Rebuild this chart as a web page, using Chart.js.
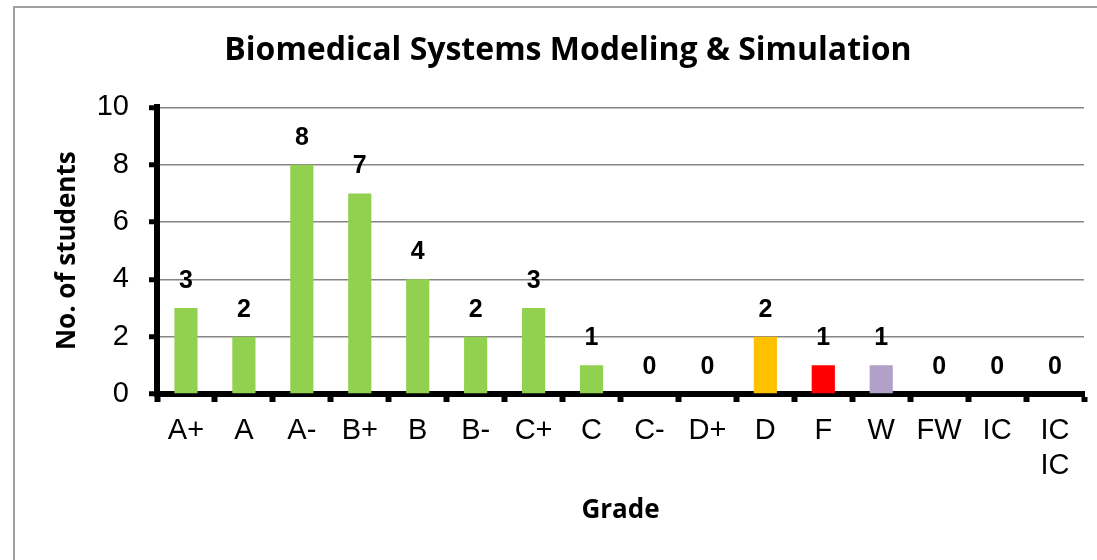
<!DOCTYPE html>
<html>
<head>
<meta charset="utf-8">
<script src="https://cdn.jsdelivr.net/npm/chart.js@4.4.1/dist/chart.umd.min.js"></script>
<style>
  html, body { margin: 0; padding: 0; background: #fff; }
  #wrap { position: relative; width: 1097px; height: 560px; overflow: hidden; }
  #frame { position: absolute; left: 13px; top: 6px; width: 1100px; height: 600px;
           border-top: 2px solid #a0a0a0; border-left: 2px solid #a0a0a0; }
  canvas { position: absolute; left: 0; top: 0; }
</style>
</head>
<body>
<div id="wrap">
  <div id="frame"></div>
  <canvas id="myChartGrades" width="1097" height="560"></canvas>
</div>
<script>
var grades = ['A+', 'A', 'A-', 'B+', 'B', 'B-', 'C+', 'C', 'C-', 'D+', 'D', 'F', 'W', 'FW', 'IC', ['IC', 'IC']];
var students = [3, 2, 8, 7, 4, 2, 3, 1, 0, 0, 2, 1, 1, 0, 0, 0];
var barColors = ['#92d050', '#92d050', '#92d050', '#92d050', '#92d050', '#92d050', '#92d050', '#92d050',
                 '#92d050', '#92d050', '#ffc000', '#ff0000', '#b1a0c7', '#92d050', '#92d050', '#92d050'];
var yTicks = [0, 2, 4, 6, 8, 10];

// numeros encima de cada barra
var valueLabels = {
    id: 'valueLabels',
    afterDatasetsDraw: function (chart) {
        var ctx = chart.ctx;
        var meta = chart.getDatasetMeta(0);
        ctx.save();
        ctx.font = 'bold 25px "Liberation Sans", Arial, sans-serif';
        ctx.fillStyle = '#000';
        ctx.textAlign = 'center';
        ctx.textBaseline = 'middle';
        meta.data.forEach(function (bar, i) {
            ctx.fillText(String(students[i]), bar.x, bar.y - 27);
        });
        ctx.restore();
    }
};

var ctx = document.getElementById('myChartGrades').getContext('2d');
var mychart = new Chart(ctx, {
    type: 'bar',
    data: {
        labels: grades,
        datasets: [{
            label: 'No. of students',
            data: students,
            backgroundColor: barColors,
            borderWidth: 0,
            categoryPercentage: 1,
            barPercentage: 0.4
        }]
    },
    options: {
        responsive: false,
        animation: false,
        layout: { padding: { left: 52, right: 13, top: 32, bottom: 34 } },
        plugins: {
            legend: { display: false },
            tooltip: { enabled: false },
            title: {
                display: true,
                text: 'Biomedical Systems Modeling & Simulation',
                color: '#000',
                font: { family: '"Open Sans", sans-serif', size: 32, weight: 'bold' },
                padding: { top: 0, bottom: 37 }
            }
        },
        scales: {
            x: {
                afterFit: function (scale) { scale.height = 132; },
                border: { display: true, color: '#000', width: 6 },
                grid: { display: true, offset: true, drawOnChartArea: false, tickColor: '#000', tickLength: 8, tickWidth: 6 },
                ticks: {
                    color: '#000',
                    padding: 12,
                    maxRotation: 0,
                    autoSkip: false,
                    font: { family: '"Liberation Sans", Arial, sans-serif', size: 29 }
                },
                title: {
                    display: true,
                    text: 'Grade',
                    color: '#000',
                    font: { family: '"Open Sans", sans-serif', size: 26, weight: 'bold' },
                    padding: 0
                }
            },
            y: {
                min: 0,
                max: 10,
                afterFit: function (scale) { scale.width = 157 - 52; },
                afterBuildTicks: function (scale) {
                    scale.ticks = yTicks.map(function (v) { return { value: v }; });
                },
                border: { display: true, color: '#000', width: 6 },
                grid: { color: '#868686', lineWidth: 1.5, tickColor: '#000', tickLength: 8, tickWidth: 5 },
                ticks: {
                    color: '#000',
                    padding: 20,
                    font: { family: '"Liberation Sans", Arial, sans-serif', size: 29 }
                },
                title: {
                    display: true,
                    text: 'No. of students',
                    color: '#000',
                    font: { family: '"Open Sans", sans-serif', size: 26, weight: 'bold' },
                    padding: 0
                }
            }
        }
    },
    plugins: [valueLabels]
});
</script>
</body>
</html>
